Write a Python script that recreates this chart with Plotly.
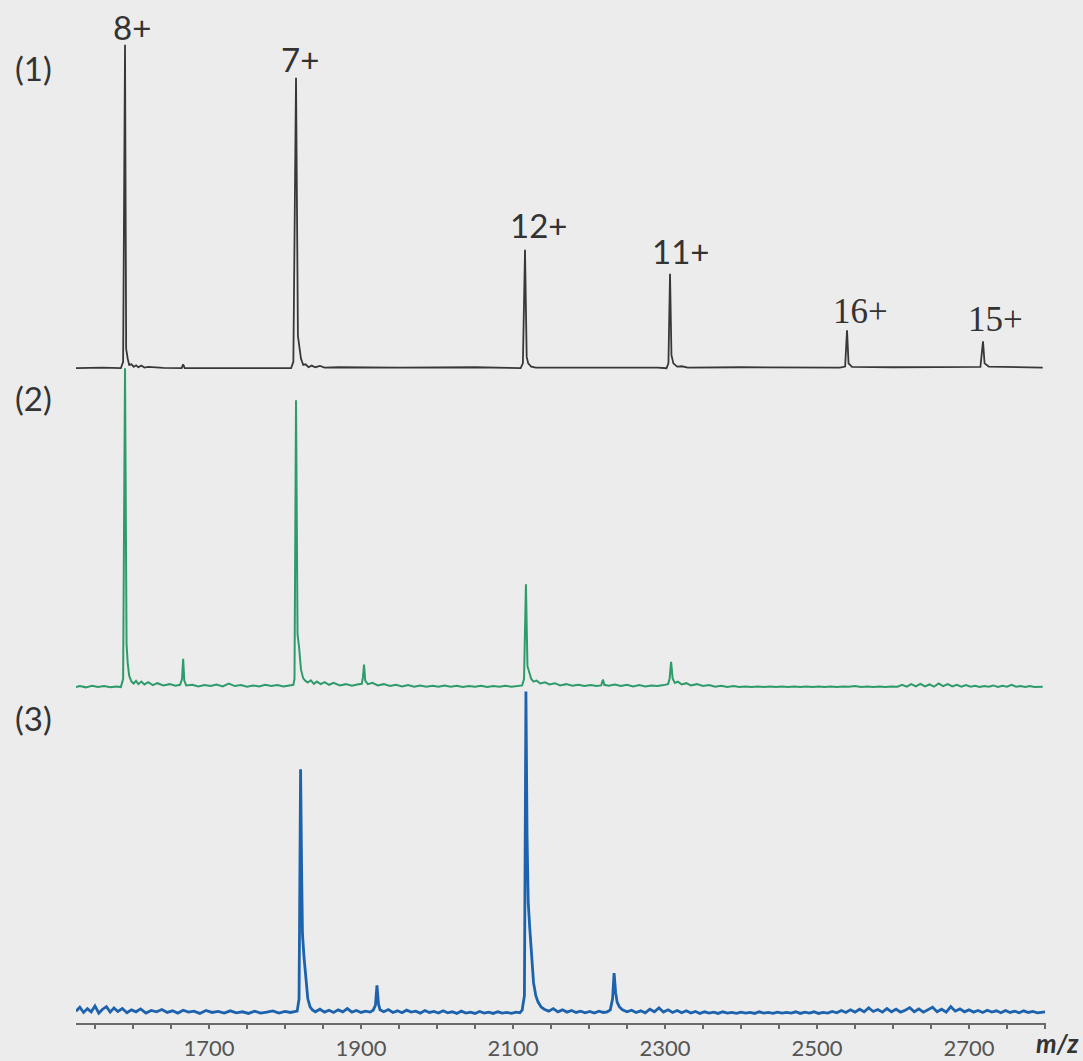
import plotly.graph_objects as go

# ---------------- data (m/z, relative intensity %) ----------------
spec1 = [(1522, 0), (1560, 0.2), (1584, 0), (1587, 2), (1589.5, 100), (1591, 6), (1593, 3),
         (1595, 1), (1598, 1.2), (1601, 0.4), (1604, 0.9), (1607, 0.3), (1611, 0.8), (1615, 0.2),
         (1620, 0.4), (1640, 0.1), (1664, 0), (1666, 1.2), (1668, 0), (1700, 0), (1760, 0.1),
         (1808, 0), (1811, 2), (1814.5, 89.8), (1817, 10), (1819, 7), (1821, 3), (1824, 1),
         (1827, 1.2), (1831, 0.3), (1835, 0.8), (1840, 0.3), (1846, 0.7), (1852, 0.2), (1870, 0.3),
         (1950, 0.2), (2050, 0.3), (2110, 0), (2113, 1.5), (2115.8, 36.6), (2118, 3.5), (2120, 1.5),
         (2124, 0.5), (2130, 0.2), (2200, 0.3), (2290, 0.2), (2302, 0), (2304.5, 1.5), (2306.6, 29.2),
         (2308.5, 4), (2311, 1.5), (2316, 0.5), (2322, 0.6), (2330, 0.2), (2400, 0.3), (2530, 0.2),
         (2537, 0.5), (2539.5, 11.7), (2541.5, 1.5), (2546, 0.4), (2600, 0.3), (2700, 0.2), (2715, 0.4),
         (2718.4, 8.3), (2720.5, 1.5), (2726, 0.5), (2760, 0.3), (2797, 0.2)]

spec2 = [(1522, 0.3), (1530, 0.8), (1538, 0.4), (1546, 0.9), (1554, 0.5), (1562, 0.8), (1570, 0.4),
         (1578, 0.7), (1584, 0.5), (1587, 3), (1589.5, 100), (1591.5, 14), (1593, 8), (1595, 4),
         (1598, 2.2), (1601, 1.6), (1604, 2.4), (1607, 1.4), (1611, 2.2), (1615, 1.3), (1620, 2.0),
         (1626, 1.1), (1632, 1.7), (1640, 1.0), (1648, 1.4), (1656, 0.9), (1662, 1.2), (1664.5, 3),
         (1666, 9.3), (1667.5, 2.5), (1670, 1.0), (1678, 1.2), (1686, 0.7), (1694, 1.1), (1702, 0.8),
         (1710, 1.3), (1718, 0.7), (1726, 1.6), (1734, 0.8), (1742, 1.1), (1750, 0.6), (1758, 1.0),
         (1766, 0.7), (1774, 1.2), (1782, 0.8), (1790, 1.1), (1798, 0.7), (1806, 1.0), (1811, 1.2),
         (1812.5, 3), (1814.5, 90), (1816.5, 17), (1818.5, 13), (1821, 6), (1824, 3.2), (1827, 2.4),
         (1830, 1.9), (1834, 2.6), (1838, 1.5), (1842, 2.2), (1847, 1.4), (1852, 2.0), (1858, 1.2),
         (1864, 1.8), (1872, 1.0), (1880, 1.4), (1888, 0.9), (1895, 1.3), (1901, 1.5), (1902.5, 3.5),
         (1904, 7.5), (1905.5, 2.5), (1909, 1.4), (1915, 1.8), (1922, 1.0), (1930, 1.4), (1938, 0.8),
         (1946, 1.2), (1954, 0.7), (1962, 1.1), (1970, 0.6), (1978, 1.0), (1986, 0.6), (1994, 0.9),
         (2002, 0.6), (2010, 1.0), (2018, 0.6), (2026, 0.9), (2034, 0.5), (2042, 0.8), (2050, 0.6),
         (2058, 0.9), (2066, 0.5), (2074, 0.8), (2082, 0.6), (2090, 0.9), (2098, 0.6), (2106, 0.8),
         (2112, 1.0), (2114.5, 3), (2117, 32.6), (2119, 7), (2121.5, 4.5), (2124, 3), (2127, 2.2),
         (2131, 2.5), (2136, 1.6), (2142, 2.0), (2148, 1.3), (2155, 1.7), (2162, 1.0), (2170, 1.4),
         (2178, 0.9), (2186, 1.2), (2194, 0.8), (2202, 1.1), (2210, 0.8), (2216, 1.0), (2217.5, 2.2),
         (2218.5, 2.8), (2220, 1.2), (2226, 0.9), (2234, 1.3), (2242, 0.8), (2250, 1.2), (2258, 0.7),
         (2266, 1.1), (2274, 0.7), (2282, 1.0), (2290, 0.8), (2298, 1.1), (2304, 1.4), (2306, 3),
         (2308, 8.4), (2310, 3.2), (2313, 1.8), (2317, 2.2), (2322, 1.3), (2328, 1.7), (2334, 1.0),
         (2342, 1.4), (2350, 0.8), (2358, 1.1), (2366, 0.6), (2374, 0.9), (2382, 0.5), (2390, 0.8),
         (2398, 0.5), (2406, 0.7), (2414, 0.5), (2422, 0.7), (2430, 0.5), (2438, 0.7), (2446, 0.5),
         (2454, 0.7), (2462, 0.5), (2470, 0.7), (2478, 0.5), (2486, 0.7), (2494, 0.5), (2502, 0.7),
         (2510, 0.5), (2518, 0.7), (2526, 0.5), (2534, 0.7), (2542, 0.6), (2550, 0.8), (2558, 0.5),
         (2566, 0.7), (2574, 0.5), (2582, 0.7), (2590, 0.5), (2598, 0.7), (2606, 0.6), (2612, 1.2),
         (2618, 0.6), (2624, 1.4), (2630, 0.7), (2636, 1.5), (2642, 0.7), (2648, 1.3), (2654, 0.6),
         (2660, 1.6), (2666, 0.8), (2672, 1.4), (2678, 0.7), (2684, 1.2), (2690, 0.6), (2696, 1.1),
         (2702, 0.6), (2708, 0.9), (2714, 0.5), (2720, 0.8), (2726, 0.6), (2732, 1.0), (2738, 0.5),
         (2744, 0.9), (2750, 0.6), (2756, 1.2), (2762, 0.6), (2768, 0.8), (2774, 0.5), (2780, 0.8),
         (2786, 0.5), (2797, 0.6)]

spec3 = [(1525, 1.2), (1530, 2.4), (1535, 0.8), (1540, 2.0), (1545, 1.0), (1550, 2.8), (1555, 0.6),
         (1560, 1.8), (1565, 2.6), (1570, 0.9), (1575, 2.2), (1580, 1.1), (1586, 2.0), (1592, 0.7),
         (1598, 1.6), (1604, 1.0), (1610, 1.9), (1617, 0.6), (1624, 1.4), (1631, 1.0), (1638, 1.7),
         (1645, 0.8), (1652, 1.3), (1659, 0.6), (1666, 1.5), (1673, 0.9), (1680, 1.2), (1688, 0.5),
         (1696, 1.4), (1704, 0.8), (1712, 1.1), (1720, 0.6), (1728, 1.3), (1736, 0.7), (1744, 1.0),
         (1752, 0.5), (1760, 1.2), (1768, 0.6), (1776, 0.9), (1784, 1.3), (1792, 0.6), (1800, 1.1),
         (1807, 0.8), (1812, 1.0), (1816, 1.2), (1818.5, 5), (1820.5, 76), (1822, 42), (1823, 25),
         (1825, 18), (1827.5, 10), (1830, 5), (1833, 2.5), (1836, 1.6), (1840, 1.0), (1846, 1.8),
         (1852, 0.9), (1858, 1.5), (1864, 0.8), (1870, 1.6), (1876, 1.0), (1882, 2.0), (1888, 0.9),
         (1894, 1.4), (1900, 0.8), (1906, 1.2), (1912, 0.9), (1916, 1.5), (1919, 3), (1921, 9.2),
         (1923, 3.5), (1925, 1.6), (1930, 1.0), (1936, 1.7), (1942, 0.8), (1948, 1.3), (1954, 0.7),
         (1960, 1.5), (1966, 0.9), (1972, 1.2), (1978, 0.6), (1984, 1.4), (1990, 0.8), (1996, 1.1),
         (2002, 0.6), (2008, 1.3), (2014, 0.7), (2020, 1.0), (2026, 0.5), (2032, 1.2), (2038, 0.6),
         (2044, 0.9), (2050, 0.5), (2056, 1.1), (2062, 0.6), (2068, 0.9), (2074, 0.5), (2080, 1.0),
         (2086, 0.6), (2092, 0.8), (2098, 0.5), (2104, 0.9), (2109, 0.7), (2112, 1.5), (2115, 6),
         (2117, 100), (2118.5, 55), (2120, 35), (2122, 27), (2124.5, 17), (2127, 10), (2130, 6),
         (2133, 4), (2137, 2.5), (2141, 1.8), (2147, 1.2), (2153, 2.0), (2159, 1.0), (2165, 1.6),
         (2171, 0.9), (2177, 1.4), (2183, 0.8), (2189, 1.2), (2195, 0.7), (2201, 1.1), (2207, 0.6),
         (2213, 1.2), (2219, 0.8), (2224, 1.0), (2228, 1.6), (2231, 5), (2233, 13), (2235, 7),
         (2237, 4), (2240, 2.5), (2244, 1.6), (2250, 1.0), (2256, 1.5), (2262, 0.8), (2268, 1.3),
         (2274, 0.7), (2280, 1.8), (2286, 1.0), (2292, 2.2), (2298, 0.9), (2304, 1.6), (2310, 0.8),
         (2316, 1.4), (2322, 0.7), (2328, 1.3), (2334, 0.6), (2340, 1.1), (2346, 0.5), (2352, 1.0),
         (2358, 0.6), (2364, 0.9), (2370, 0.5), (2376, 1.0), (2382, 0.6), (2388, 0.8), (2394, 0.5),
         (2400, 0.9), (2406, 0.6), (2412, 0.8), (2418, 0.5), (2424, 1.0), (2430, 0.6), (2436, 0.8),
         (2442, 0.5), (2448, 0.9), (2454, 0.6), (2460, 0.8), (2466, 0.6), (2472, 1.0), (2478, 0.5),
         (2484, 0.9), (2490, 0.6), (2496, 1.0), (2502, 0.5), (2508, 0.8), (2514, 0.6), (2520, 1.1),
         (2526, 0.7), (2532, 1.4), (2538, 0.8), (2544, 1.6), (2550, 0.9), (2556, 1.8), (2562, 1.0),
         (2568, 2.2), (2574, 1.1), (2580, 1.7), (2586, 0.9), (2592, 2.0), (2598, 1.0), (2604, 1.8),
         (2610, 0.9), (2616, 1.5), (2622, 2.3), (2628, 1.0), (2634, 1.9), (2640, 0.9), (2646, 1.6),
         (2652, 2.4), (2658, 1.0), (2664, 1.8), (2670, 0.9), (2676, 2.6), (2682, 1.2), (2688, 1.9),
         (2694, 1.0), (2700, 1.6), (2706, 0.9), (2712, 1.4), (2718, 0.8), (2724, 1.5), (2730, 0.9),
         (2736, 1.3), (2742, 0.7), (2748, 1.4), (2754, 0.8), (2760, 1.2), (2766, 0.7), (2772, 1.3),
         (2778, 0.8), (2784, 1.1), (2790, 0.7), (2800, 1.0)]

tick_vals = [1700, 1900, 2100, 2300, 2500, 2700]
tick_text = ["1700", "1900", "2100", "2300", "2500", "2700"]
panel_labels = ["(1)", "(2)", "(3)"]
charge_labels = ["8+", "7+", "12+", "11+", "16+", "15+"]

# ---------------- layout helpers ----------------
W, H = 1083, 1061
ML, MR, MT, MB = 76, 37, 0, 33
PW, PH = W - ML - MR, H - MT - MB
BG = "#ececec"


def px(x, y):
    return (x - ML) / PW, (PH - (y - MT)) / PH


def yaxis(dom_top, dom_bot, base, full):
    s = (base - full) / 100.0
    return dict(domain=[(PH - dom_bot) / PH, (PH - dom_top) / PH],
                range=[-(dom_bot - base) / s, (base - dom_top) / s],
                visible=False, fixedrange=True)


fig = go.Figure()
colors = ["#383838", "#2e9b6a", "#1d62ad"]
widths = [1.8, 2.0, 2.8]
for i, (spec, yref) in enumerate([(spec1, "y"), (spec2, "y2"), (spec3, "y3")]):
    mz, inten = zip(*spec)
    fig.add_trace(go.Scatter(x=list(mz), y=list(inten), mode="lines", yaxis=yref,
                             line=dict(color=colors[i], width=widths[i]),
                             showlegend=False, hoverinfo="skip"))

fig.update_layout(
    width=W, height=H,
    margin=dict(l=ML, r=MR, t=MT, b=MB),
    paper_bgcolor=BG, plot_bgcolor="rgba(0,0,0,0)",
    xaxis=dict(range=[1525, 2801.3], anchor="y3", showgrid=False, zeroline=False,
               showline=True, linecolor="#6a6a6a", linewidth=2,
               tickvals=tick_vals, ticktext=tick_text, ticks="outside", ticklen=4,
               tickcolor="#6a6a6a", tickwidth=1.5,
               tickfont=dict(family="Lato", size=22, color="#555555"),
               minor=dict(ticks="outside", dtick=50, tick0=1500, ticklen=4,
                          tickcolor="#6a6a6a", tickwidth=1.5, showgrid=False)),
    yaxis=yaxis(0, 374, 370, 45),
    yaxis2=yaxis(360, 696, 692, 370),
    yaxis3=yaxis(690, 1028, 1020, 695),
)
try:
    fig.update_xaxes(ticklabelstandoff=1)
except Exception:
    pass

sans = dict(family="Lato", size=33, color="#333333")
serif = dict(family="Liberation Serif", size=35, color="#333333")
ann = []
for lab, (x, y) in zip(panel_labels, [(33, 68), (33, 400), (33, 722)]):
    ann.append((lab, x, y, sans))
for lab, (x, y), f in zip(charge_labels,
                          [(132, 27), (300, 59), (538, 226), (680, 252), (860, 313), (995, 321)],
                          [sans, sans, sans, sans, serif, serif]):
    ann.append((lab, x, y, f))

for text, x, y, f in ann:
    ax, ay = px(x, y)
    fig.add_annotation(text=text, x=ax, y=ay, xref="paper", yref="paper",
                       xanchor="center", yanchor="middle", showarrow=False, font=f)

mx, my = px(1081, 1048)
fig.add_annotation(text="<b><i>m/z</i></b>", x=mx, y=my, xref="paper", yref="paper",
                   xanchor="right", yanchor="middle", showarrow=False,
                   font=dict(family="Lato", size=26, color="#333333"))

fig.write_html("out.html",
               config={"displayModeBar": False},
               post_script="document.body.style.margin='0';"
                           "document.body.style.background='" + BG + "';")
